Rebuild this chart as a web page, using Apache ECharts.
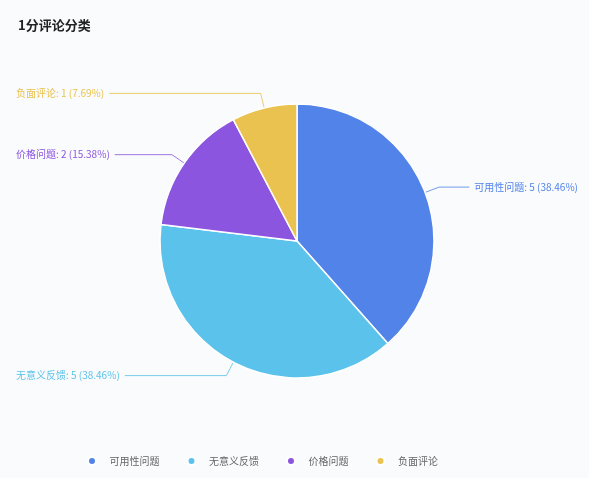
<!DOCTYPE html>
<html>
<head>
<meta charset="utf-8">
<script src="https://cdn.jsdelivr.net/npm/echarts@6/dist/echarts.min.js"></script>
<style>
html,body{margin:0;padding:0;background:#f9fbfc;}
#main{width:589px;height:478px;}
</style>
</head>
<body>
<div id="main"></div>
<script>
var titleText = '1分评论分类';
var categories = ['可用性问题', '无意义反馈', '价格问题', '负面评论'];
var counts = [5, 5, 2, 1];
var colors = ['#5283e8', '#5bc2eb', '#8c55e0', '#e9c24f'];

var total = counts.reduce(function (a, b) { return a + b; }, 0);
var chart = echarts.init(document.getElementById('main'), null, {renderer: 'canvas'});
var data = categories.map(function (c, i) {
  return {name: c, value: counts[i], itemStyle: {color: colors[i]}};
});
chart.setOption({
  backgroundColor: '#f9fbfc',
  animation: false,
  title: {
    text: titleText,
    left: 13,
    top: 14,
    textStyle: {fontSize: 13, fontWeight: 'bold', color: '#222', fontFamily: 'Noto Sans CJK SC'}
  },
  legend: {
    data: categories,
    left: 82,
    top: 451,
    icon: 'circle',
    itemWidth: 25,
    itemHeight: 8,
    itemGap: 27,
    textStyle: {fontSize: 10, color: '#666', fontFamily: 'Noto Sans CJK SC'}
  },
  series: [{
    type: 'pie',
    left: 5,
    right: 0,
    top: 0,
    bottom: 0,
    center: ['50%', 241],
    radius: 137,
    startAngle: 90,
    clockwise: true,
    data: data,
    itemStyle: {borderColor: '#ffffff', borderWidth: 1.5},
    label: {
      show: true,
      color: 'inherit',
      formatter: function (p) {
        return p.name + ': ' + p.value + ' (' + (p.value / total * 100).toFixed(2) + '%)';
      },
      fontSize: 10,
      fontFamily: 'Noto Sans CJK SC',
      alignTo: 'edge',
      edgeDistance: 11,
      bleedMargin: 0
    },
    labelLine: {
      show: true,
      length: 15,
      length2: 10,
      lineStyle: {width: 1, opacity: 0.8}
    }
  }]
});
</script>
</body>
</html>
